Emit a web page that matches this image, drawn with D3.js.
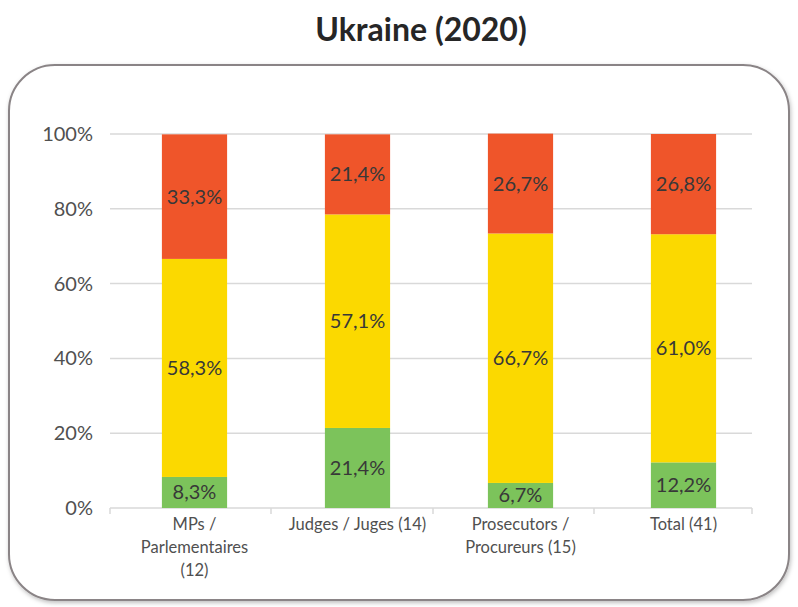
<!DOCTYPE html>
<html>
<head>
  <title>Ukraine (2020)</title>
  <script src="https://d3js.org/d3.v7.min.js"></script>
  <style>
    body { margin: 0; background: #fff; }
    text { font-family: Lato, "Open Sans", sans-serif; }
    .grid line { stroke: #d9d9d9; stroke-width: 1.5px; }
    .ytick { font-size: 20px; fill: #505050; }
    .xlab { font-size: 16.5px; fill: #505050; }
    .val { font-size: 20px; fill: #383838; }
  </style>
</head>
<body>
  <svg width="798" height="607"></svg>

  <script>
    // categories (label lines) and shares in %
    const categories = [
      ["MPs /", "Parlementaires", "(12)"],
      ["Judges / Juges (14)"],
      ["Prosecutors  /", "Procureurs (15)"],
      ["Total (41)"]
    ];
    const green = [8.3, 21.4, 6.7, 12.2];
    const yellow = [58.3, 57.1, 66.7, 61.0];
    const red = [33.3, 21.4, 26.7, 26.8];
    const yTicks = [0, 20, 40, 60, 80, 100];

    const seriesNames = ["green", "yellow", "red"];
    const colors = { green: "#7cc35b", yellow: "#fbd900", red: "#ef552a" };

    const rows = categories.map((c, i) => ({
      key: i, green: green[i], yellow: yellow[i], red: red[i]
    }));

    const svg = d3.select('svg');

    // frame with rounded corners and soft shadow
    const defs = svg.append('defs');
    const f = defs.append('filter').attr('id', 'sh').attr('x', '-5%').attr('y', '-5%')
      .attr('width', '110%').attr('height', '110%');
    f.append('feDropShadow').attr('dx', 1).attr('dy', 2).attr('stdDeviation', 2)
      .attr('flood-color', '#000').attr('flood-opacity', 0.25);

    svg.append('rect')
      .attr('x', 9).attr('y', 65).attr('width', 780).attr('height', 535)
      .attr('rx', 46).attr('ry', 46)
      .attr('fill', '#fff').attr('stroke', '#8a8486').attr('stroke-width', 2)
      .attr('filter', 'url(#sh)');

    svg.append('text')
      .attr('x', 421).attr('y', 41)
      .attr('text-anchor', 'middle')
      .style('font-size', '32px').style('font-weight', 'bold').style('fill', '#262626')
      .text('Ukraine (2020)');

    const x = d3.scaleBand()
      .domain(rows.map(d => d.key))
      .range([113, 765])
      .paddingInner(0.6).paddingOuter(0.3);

    const y = d3.scaleLinear().domain([0, 100]).range([508, 134]);

    // gridlines
    svg.append('g').attr('class', 'grid')
      .selectAll('line').data(yTicks).enter().append('line')
      .attr('x1', 110).attr('x2', 752)
      .attr('y1', d => y(d)).attr('y2', d => y(d));

    // category tick marks under the axis
    const bounds = [110, 271, 433, 594, 752];
    svg.append('g').selectAll('line').data(bounds).enter().append('line')
      .attr('x1', d => d).attr('x2', d => d)
      .attr('y1', y(0)).attr('y2', y(0) + 6)
      .attr('stroke', '#d9d9d9').attr('stroke-width', 1.5);

    // y labels
    svg.append('g').selectAll('text').data(yTicks).enter().append('text')
      .attr('class', 'ytick')
      .attr('x', 93).attr('y', d => y(d) + 7)
      .attr('text-anchor', 'end')
      .text(d => d + '%');

    const stack = d3.stack().keys(seriesNames)(rows);

    const layer = svg.append('g').selectAll('g').data(stack).enter().append('g')
      .attr('fill', d => colors[d.key]);

    layer.selectAll('rect').data(d => d).enter().append('rect')
      .attr('x', d => x(d.data.key))
      .attr('width', x.bandwidth())
      .attr('y', d => y(d[1]))
      .attr('height', d => y(d[0]) - y(d[1]));

    // value labels
    svg.append('g').selectAll('g').data(stack).enter().append('g')
      .selectAll('text').data(d => d).enter().append('text')
      .attr('class', 'val')
      .attr('x', d => x(d.data.key) + x.bandwidth() / 2)
      .attr('y', d => y((d[0] + d[1]) / 2) + 7)
      .attr('text-anchor', 'middle')
      .text(d => (d[1] - d[0]).toFixed(1).replace('.', ',') + '%');

    // x labels
    svg.append('g').selectAll('text').data(categories).enter().append('text')
      .attr('class', 'xlab')
      .attr('x', (d, i) => x(i) + x.bandwidth() / 2)
      .attr('y', 530)
      .attr('text-anchor', 'middle')
      .selectAll('tspan').data(d => d).enter().append('tspan')
      .attr('x', function () { return this.parentNode.getAttribute('x'); })
      .attr('dy', (d, i) => i === 0 ? 0 : 23)
      .text(d => d);
  </script>
</body>
</html>
